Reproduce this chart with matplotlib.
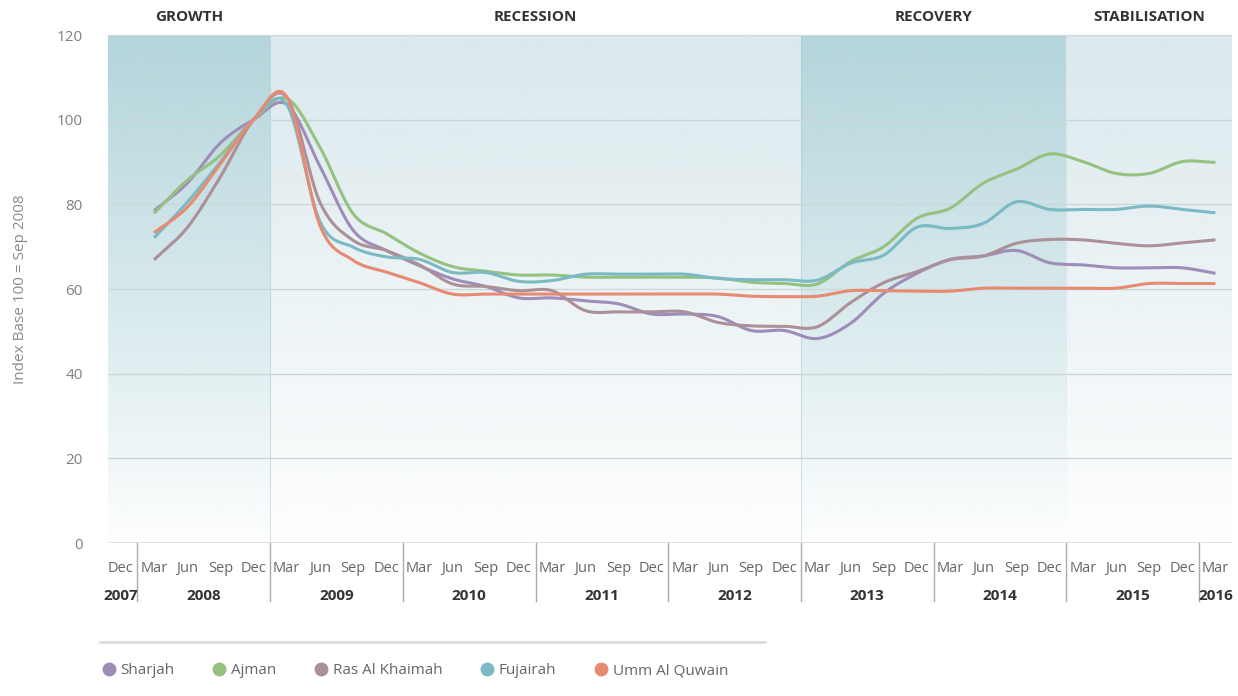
import numpy as np
import matplotlib.pyplot as plt
from matplotlib.lines import Line2D

plt.rcParams['font.family'] = ['Open Sans', 'DejaVu Sans']

# quarters Mar 2008 .. Mar 2016 (index 1..33, Dec 2007 = 0)
quarters = ['Dec'] + ['Mar', 'Jun', 'Sep', 'Dec'] * 8 + ['Mar']
years = ['2007', '2008', '2009', '2010', '2011', '2012', '2013', '2014', '2015', '2016']
phases = ['GROWTH', 'RECESSION', 'RECOVERY', 'STABILISATION']

sharjah = [78.5, 85.0, 94.5, 100, 103.6, 89.0, 73.9, 69.1, 65.5, 62.4, 60.6, 57.9,
           57.9, 57.2, 56.5, 54.1, 54.1, 53.5, 50.2, 50.2, 48.3, 51.9, 59.0, 63.7,
           67.0, 67.8, 69.1, 66.2, 65.7, 65.0, 65.0, 65.0, 63.7]
ajman = [77.9, 85.7, 91.6, 100, 105.0, 93.5, 77.8, 73.1, 68.5, 65.3, 64.2, 63.3,
         63.3, 62.8, 62.8, 62.8, 62.8, 62.6, 61.6, 61.3, 61.2, 66.5, 70.0, 76.7,
         79.1, 85.0, 88.3, 91.9, 90.1, 87.3, 87.3, 90.1, 89.9]
ras_al_khaimah = [66.9, 74.5, 86.5, 100, 105.3, 80.5, 71.5, 69.1, 65.7, 61.2, 60.6, 59.6,
                  59.6, 54.9, 54.6, 54.6, 54.6, 52.1, 51.3, 51.2, 51.1, 56.8, 61.5, 64.1,
                  66.9, 67.8, 70.8, 71.7, 71.6, 70.8, 70.2, 70.9, 71.6]
fujairah = [72.1, 80.5, 90.0, 100, 103.6, 76.0, 69.9, 67.6, 67.0, 63.9, 63.9, 61.8,
            62.0, 63.5, 63.5, 63.5, 63.5, 62.5, 62.2, 62.2, 62.1, 66.1, 68.0, 74.6,
            74.3, 75.5, 80.6, 78.8, 78.8, 78.8, 79.6, 78.8, 78.0]
umm_al_quwain = [73.3, 79.3, 89.6, 100, 105.4, 75.0, 66.8, 64.0, 61.5, 58.8, 58.8, 58.8,
                 58.8, 58.8, 58.8, 58.8, 58.8, 58.8, 58.3, 58.2, 58.3, 59.6, 59.6, 59.5,
                 59.5, 60.2, 60.2, 60.2, 60.2, 60.2, 61.3, 61.3, 61.3]

series = [('Sharjah', sharjah, '#9d8db8'),
          ('Ajman', ajman, '#95c181'),
          ('Ras Al Khaimah', ras_al_khaimah, '#ab9098'),
          ('Fujairah', fujairah, '#7bb9c5'),
          ('Umm Al Quwain', umm_al_quwain, '#e88a72')]


def smooth(x, y, n=20):
    # catmull-rom curve through the quarterly points
    x = np.asarray(x, float)
    y = np.asarray(y, float)
    px = np.concatenate([[2 * x[0] - x[1]], x, [2 * x[-1] - x[-2]]])
    py = np.concatenate([[2 * y[0] - y[1]], y, [2 * y[-1] - y[-2]]])
    t = np.linspace(0, 1, n, endpoint=False)
    xs, ys = [], []
    for i in range(1, len(px) - 2):
        for p, out in ((px, xs), (py, ys)):
            p0, p1, p2, p3 = p[i - 1], p[i], p[i + 1], p[i + 2]
            out.append(0.5 * (2 * p1 + (-p0 + p2) * t + (2 * p0 - 5 * p1 + 4 * p2 - p3) * t ** 2
                              + (-p0 + 3 * p1 - 3 * p2 + p3) * t ** 3))
    xs.append([x[-1]])
    ys.append([y[-1]])
    return np.concatenate(xs), np.concatenate(ys)


fig = plt.figure(figsize=(12.38, 6.96), dpi=100)
ax = fig.add_axes([0.0872, 0.2198, 0.9080, 0.7299])

x0, x1 = -0.39, 33.5
bands = [(x0, 4.5, '#b3d5db'), (4.5, 20.5, '#dbe9ed'), (20.5, 28.5, '#b3d5db'), (28.5, x1, '#dbe9ed')]
alpha = np.linspace(1, 0, 256) ** 0.9
for a, b, c in bands:
    img = np.zeros((256, 1, 4))
    img[:, 0, :3] = plt.matplotlib.colors.to_rgb(c)
    img[:, 0, 3] = alpha
    ax.imshow(img, extent=[a, b, 0, 120], aspect='auto', origin='upper', zorder=0,
              interpolation='bilinear')
for b in (4.5, 20.5):
    ax.axvline(b, color='#9fc6ce', lw=0.8, alpha=0.45, zorder=1)

for v in range(20, 121, 20):
    ax.axhline(v, color='#cbd6d9', lw=1, zorder=1)
ax.axhline(0, color='#e2e2e2', lw=1.5, zorder=1)

xq = np.arange(1, 34)
for name, vals, col in series:
    sx, sy = smooth(xq, vals)
    ax.plot(sx, sy, color=col, lw=2.2, zorder=3, solid_capstyle='butt')

ax.set_xlim(x0, x1)
ax.set_ylim(0, 120)
for s in ax.spines.values():
    s.set_visible(False)
ax.set_yticks(range(0, 121, 20))
ax.tick_params(axis='y', length=0, pad=18, labelsize=11, labelcolor='#808080')
ax.set_xticks(range(len(quarters)))
ax.set_xticklabels(quarters)
ax.tick_params(axis='x', length=0, pad=13, labelsize=10.5, labelcolor='#666666')
ax.set_ylabel('Index Base 100 = Sep 2008', fontsize=11, color='#8a8a8a', labelpad=21)

tr = ax.get_xaxis_transform()
# year separators and labels
for sep in [0.5 + 4 * k for k in range(9)]:
    ax.plot([sep, sep], [0, -0.115], transform=tr, color='#aaaaaa', lw=1, clip_on=False)
year_pos = [0, 2.5, 6.5, 10.5, 14.5, 18.5, 22.5, 26.5, 30.5, 33]
for yr, p in zip(years, year_pos):
    ax.text(p, -0.104, yr, transform=tr, ha='center', va='center', fontsize=11,
            fontweight='bold', color='#333333')

phase_pos = [(x0 + 4.5) / 2, 12.5, 24.5, (28.5 + x1) / 2]
for ph, p in zip(phases, phase_pos):
    ax.text(p, 1.035, ph, transform=tr, ha='center', va='center', fontsize=11,
            fontweight='bold', color='#333333')

fig.add_artist(Line2D([0.0808, 0.618], [0.0776, 0.0776], color='#dddddd', lw=2))
handles = [Line2D([], [], marker='o', ls='none', ms=9, color=c) for _, _, c in series]
fig.legend(handles, [n for n, _, _ in series], loc='center left', bbox_to_anchor=(0.0705, 0.036),
           ncol=5, frameon=False, handletextpad=0.25, columnspacing=2.45, handlelength=1.0,
           prop={'size': 11}, labelcolor='#666666')

fig.savefig('out.png', dpi=100)
